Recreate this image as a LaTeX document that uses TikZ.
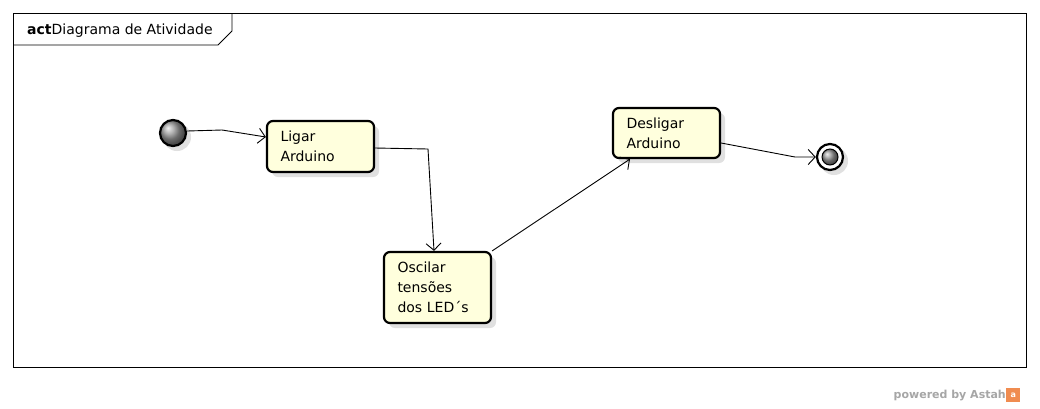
\documentclass[tikz,border=0pt]{standalone}
\usepackage{fontspec}
\setmainfont{DejaVu Sans}
\usetikzlibrary{arrows.meta,shadows}
\definecolor{actfill}{RGB}{255,255,221}
\definecolor{astahorange}{RGB}{240,140,80}
\tikzset{
  actbox/.style={draw, line width=2.2pt, rounded corners=6pt, fill=actfill,
    text width=80pt, inner xsep=13.5pt, inner ysep=0pt, align=left,
    font=\fontsize{14}{20}\selectfont,
    drop shadow={shadow xshift=5pt, shadow yshift=-5pt, fill=black!12, opacity=1}},
  flow/.style={-{Straight Barb[length=7pt,width=15pt]}, line width=0.9pt},
}
\begin{document}
\begin{tikzpicture}[x=1pt,y=-1pt]
  \useasboundingbox[fill=white] (0,0) rectangle (1040,408);
  % frame
  \draw[line width=0.9pt] (13,13) rectangle (1026,367);
  \draw[line width=0.9pt] (13,45) -- (218,45) -- (232,31) -- (232,13);
  \node[anchor=west, font=\fontsize{14}{16}\selectfont, inner sep=0pt] (title) at (27,31)
    {\textbf{act}Diagrama de Atividade};

  % initial and final nodes
  \fill[black!12] (177,137) circle (14);
  \draw[line width=2.2pt, ball color=gray!80] (173,133) circle (13);
  \node[circle, minimum size=28pt, inner sep=0pt] (start) at (173,133) {};
  \fill[black!12] (834,161) circle (14);
  \draw[line width=2.2pt, fill=white] (830,157) circle (13);
  \shade[ball color=gray!80] (830,157) circle (8);
  \draw[line width=1pt] (830,157) circle (8);
  \node[circle, minimum size=28pt, inner sep=0pt] (stop) at (830,157) {};

  % actions
  \node[actbox, minimum height=51pt] (ligar) at (320.5,146.5) {Ligar\\Arduino};
  \node[actbox, minimum height=71pt] (oscilar) at (437.5,287.5) {Oscilar\\tensões\\dos LED´s};
  \node[actbox, minimum height=50pt] (desligar) at (666.5,133) {Desligar\\Arduino};

  % flows
  \coordinate (b1) at (222,130);
  \coordinate (b2) at (428,149);
  \coordinate (b3) at (795,157);
  \draw[flow] ([yshift=2pt]start.east) -- (b1) -- ([yshift=9.5pt]ligar.west);
  \draw[flow] ([yshift=-1.5pt]ligar.east) -- (b2) -- ([xshift=-3.5pt]oscilar.north);
  \draw[flow] (oscilar.north east) -- ([xshift=-36.5pt]desligar.south);
  \draw[flow] ([yshift=-10pt]desligar.east) -- (b3) -- (stop.west);

  % watermark
  \node[anchor=east, text=black!35, font=\bfseries\fontsize{11}{12}\selectfont, inner sep=0pt] (powered) at (1006,395) {powered by Astah};
  \node[anchor=west, fill=astahorange, text=white, font=\bfseries\fontsize{8}{9}\selectfont,
    inner sep=1pt, minimum size=14pt] (logo) at (1006,395) {a};
\end{tikzpicture}
\end{document}
